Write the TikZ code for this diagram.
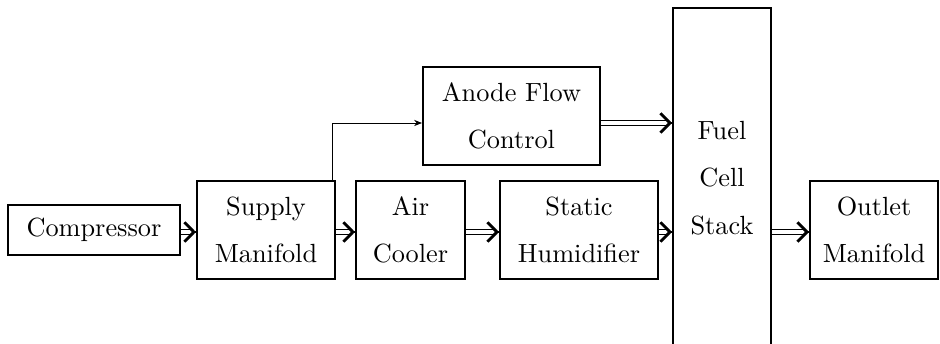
\documentclass[tikz,border=0pt]{standalone}
\usetikzlibrary{arrows.meta}
\begin{document}
\begin{tikzpicture}[x=0.38023pt,y=-0.38023pt,
  blk/.style 2 args={draw,line width=0.8pt,inner sep=0pt,align=center,
    minimum width=#1*0.38023pt,minimum height=#2*0.38023pt},
  dbl/.style={double,double distance=1.5pt,line width=0.5pt,shorten >=1.5pt},
  chev/.style={line width=0.5pt,-{Straight Barb[length=3.6pt,width=7.4pt,line width=1.1pt]}},
  feed/.style={line width=0.3pt,-{Stealth[length=3pt,width=2.4pt]}}]
\useasboundingbox (0,0) rectangle (940,344);
\clip (0,0) rectangle (940,344);
\node[blk={172}{50}] (comp) at (94,230) {Compressor};
\node[blk={138}{98}] (sup) at (266,230) {Supply\\[6pt]Manifold};
\node[blk={109}{98}] (cool) at (410.5,230) {Air\\[6pt]Cooler};
\node[blk={158}{98}] (hum) at (579,230) {Static\\[6pt]Humidifier};
\node[blk={98}{340}] (fcs) at (722,178) {Fuel\\[6pt]Cell\\[6pt]Stack};
\node[blk={128}{98}] (out) at (874,230) {Outlet\\[6pt]Manifold};
\node[blk={177}{98}] (afc) at (511.5,116) {Anode Flow\\[6pt]Control};
\coordinate (m) at (0,232);
\coordinate (a) at (0,123);
\coordinate (v) at (332,0);
\foreach \s/\t/\y in {comp/sup/m, sup/cool/m, cool/hum/m, hum/fcs/m, fcs/out/m, afc/fcs/a}{
  \draw[dbl] (\s.east |- \y) -- (\t.west |- \y);
  \draw[chev] ([xshift=-0.05pt]\t.west |- \y) -- (\t.west |- \y);
}
\draw[feed] (sup.north -| v) |- (afc.west |- a);
\end{tikzpicture}
\end{document}
